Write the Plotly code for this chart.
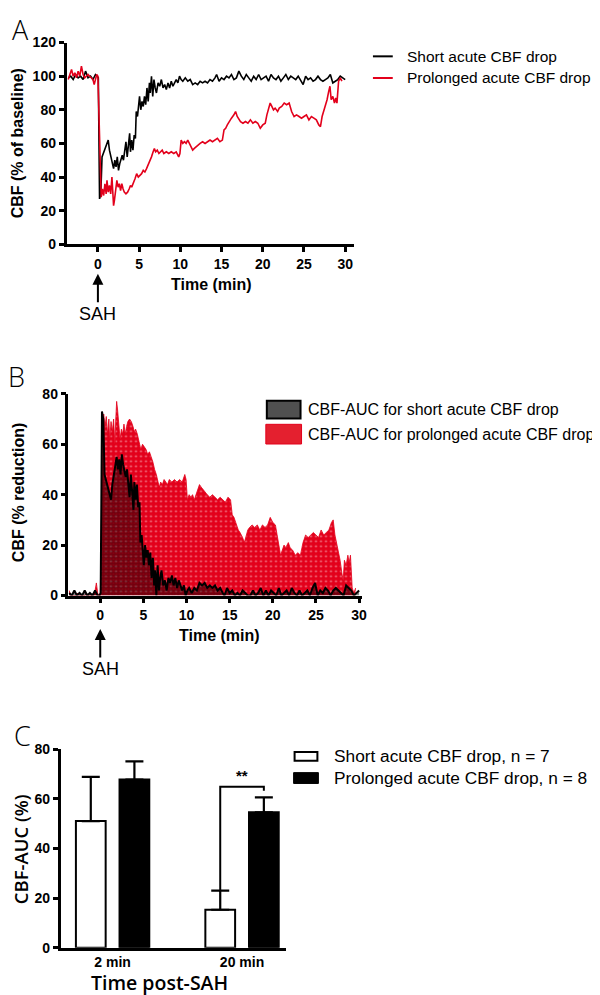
import numpy as np
import plotly.graph_objects as go

# ---------------- data ----------------
# Panel A: CBF (% of baseline) over time (min)
t_short = [-3.6, -3.3, -3.0, -2.7, -2.4, -2.1, -1.8, -1.5, -1.2, -0.9, -0.6, -0.3, -0.1, 0.05,
           0.2, 0.35, 0.5, 0.7, 0.9, 1.1, 1.25, 1.4, 1.6, 1.75, 1.9, 2.05, 2.2, 2.35, 2.5, 2.65,
           2.8, 2.95, 3.1, 3.25, 3.4, 3.55, 3.7, 3.85, 3.95, 4.1, 4.25, 4.4, 4.55, 4.65, 4.8,
           4.95, 5.05, 5.2, 5.35, 5.5, 5.65, 5.8, 5.95, 6.1, 6.25, 6.35, 6.5, 6.65, 6.8, 6.95,
           7.1, 7.3, 7.5, 7.7, 7.9, 8.1, 8.3, 8.5, 8.7, 8.9, 9.1, 9.3, 9.5, 9.7, 9.9, 10.1,
           10.3, 10.6, 10.9, 11.2, 11.5, 11.8, 12.1, 12.4, 12.7, 13.0, 13.3, 13.6, 13.9, 14.2,
           14.4, 14.7, 15.0, 15.3, 15.6, 15.9, 16.2, 16.5, 16.8, 17.1, 17.4, 17.7, 18.0, 18.3,
           18.6, 18.9, 19.2, 19.5, 19.8, 20.1, 20.4, 20.7, 21.0, 21.3, 21.6, 21.9, 22.2, 22.5,
           22.8, 23.1, 23.4, 23.7, 24.0, 24.3, 24.6, 24.9, 25.2, 25.5, 25.8, 26.1, 26.4, 26.7,
           27.0, 27.3, 27.6, 27.9, 28.2, 28.5, 28.8, 29.1, 29.4, 29.7, 30.0]
cbf_short = [99, 100, 98, 101, 99, 100, 98, 103, 99, 100, 98, 101, 100, 99,
             27, 30, 52, 55, 58, 60, 62, 56, 52, 48, 45, 50, 46, 52, 44, 48,
             50, 53, 50, 55, 61, 52, 58, 66, 55, 62, 56, 65, 63, 79, 76,
             84, 88, 80, 85, 82, 88, 83, 93, 85, 96, 90, 100, 88, 98, 93,
             90, 96, 94, 98, 93, 95, 92, 96, 93, 97, 94, 96, 98, 96, 100, 98,
             97, 99, 97, 98, 95, 96, 95, 97, 96, 97, 96, 98, 97, 99,
             101, 97, 99, 98, 100, 99, 101, 98, 99, 103, 100, 98, 101, 99,
             97, 100, 98, 101, 98, 99, 100, 97, 101, 99, 98, 100, 97, 99,
             101, 98, 100, 99, 98, 100, 97, 95, 100, 98, 99, 97, 98, 100,
             98, 97, 98, 99, 101, 96, 97, 98, 100, 99, 98]

t_prolonged = [-3.6, -3.4, -3.2, -3.0, -2.8, -2.6, -2.4, -2.2, -2.0, -1.8, -1.6, -1.4, -1.2, -1.0,
               -0.8, -0.6, -0.45, -0.3, -0.15, 0.0, 0.1, 0.25, 0.4, 0.55, 0.7, 0.85, 1.0, 1.1,
               1.25, 1.4, 1.55, 1.7, 1.8, 1.9, 2.0, 2.15, 2.3, 2.45, 2.6, 2.75, 2.9, 3.05, 3.2,
               3.4, 3.6, 3.8, 3.95, 4.1, 4.3, 4.5, 4.7, 4.9, 5.1, 5.3, 5.5, 5.7, 5.9, 6.1, 6.3,
               6.5, 6.7, 6.85, 7.0, 7.2, 7.4, 7.6, 7.8, 8.0, 8.3, 8.6, 8.9, 9.2, 9.5, 9.8, 9.95,
               10.1, 10.3, 10.5, 10.7, 10.9, 11.1, 11.3, 11.5, 11.7, 11.9, 12.1, 12.4, 12.7, 13.0,
               13.3, 13.6, 13.9, 14.2, 14.5, 14.8, 15.1, 15.3, 15.5, 15.7, 16.0, 16.2, 16.5, 16.7,
               16.9, 17.1, 17.3, 17.6, 17.9, 18.2, 18.5, 18.8, 19.1, 19.4, 19.7, 20.0, 20.3, 20.5,
               20.7, 20.9, 21.1, 21.3, 21.5, 21.8, 22.0, 22.3, 22.6, 22.9, 23.2, 23.5, 23.8, 24.1,
               24.4, 24.7, 25.0, 25.3, 25.6, 25.9, 26.2, 26.5, 26.8, 27.0, 27.2, 27.4, 27.6, 27.8,
               28.0, 28.15, 28.3, 28.5, 28.7, 28.85, 29.0, 29.2, 29.4, 29.6]
cbf_prolonged = [98, 101, 104, 100, 102, 99, 103, 100, 106, 101, 99, 100, 101, 100,
                 99, 98, 95, 99, 101, 100, 80, 42, 28, 33, 29, 36, 30, 38,
                 31, 35, 30, 40, 30, 23, 26, 33, 38, 34, 36, 32, 36, 33, 31,
                 30, 31, 33, 35, 34, 36, 39, 42, 40, 41, 42, 44, 43, 45, 47, 50,
                 52, 55, 57, 55, 56, 54, 55, 56, 54, 55, 54, 55, 54, 55, 52, 54,
                 62, 60, 61, 60, 62, 60, 58, 56, 57, 58, 59, 60, 61, 60,
                 61, 62, 61, 62, 63, 61, 62, 68, 69, 71, 74, 75, 77, 79,
                 76, 74, 73, 72, 73, 72, 74, 72, 73, 72, 69, 71, 72, 77,
                 80, 84, 82, 80, 81, 79, 81, 82, 84, 83, 84, 79, 76, 77,
                 76, 75, 76, 77, 74, 76, 75, 74, 71, 70, 76, 79, 83, 86,
                 91, 94, 86, 88, 84, 87, 84, 97, 99, 97]

# Panel C: CBF-AUC (%)
timepoints = ["2 min", "20 min"]
auc_short = [51, 15.3]
auc_short_sem = [17.8, 7.7]
auc_prolonged = [67.7, 54.5]
auc_prolonged_sem = [7.3, 6.0]

# ---------------- style ----------------
RED = "#e3001b"
W, H = 600, 995
ARIAL = "Liberation Sans, Arial, sans-serif"
LIGHT = "Open Sans, sans-serif"


def px(x):
    return x / W


def py(y):
    return 1 - y / H


axis_common = dict(showline=True, linecolor="black", linewidth=2.5, ticks="outside",
                   ticklen=5, tickwidth=2.5, tickcolor="black", showgrid=False,
                   zeroline=False, mirror=False,
                   tickfont=dict(family=ARIAL, size=14, color="black", weight="bold"))

fig = go.Figure()

# Panel A
fig.add_trace(go.Scatter(x=t_short, y=cbf_short, mode="lines", xaxis="x", yaxis="y",
                         line=dict(color="black", width=1.6), name="Short acute CBF drop",
                         showlegend=False))
fig.add_trace(go.Scatter(x=t_prolonged, y=cbf_prolonged, mode="lines", xaxis="x", yaxis="y",
                         line=dict(color=RED, width=1.6), name="Prolonged acute CBF drop",
                         showlegend=False))

# Panel B (reduction = 100 - CBF, floored at 0)
red_short = np.clip(100 - np.array(cbf_short, dtype=float), 0, None)
red_prol = np.clip(100 - np.array(cbf_prolonged, dtype=float), 0, None)
fig.add_trace(go.Scatter(x=t_prolonged, y=red_prol, mode="lines", xaxis="x2", yaxis="y2",
                         fill="tozeroy", fillcolor=RED, line=dict(color=RED, width=0.8),
                         fillpattern=dict(shape=".", fgcolor="white", bgcolor=RED,
                                          size=5, solidity=0.12, fillmode="overlay"),
                         showlegend=False, name="CBF-AUC for prolonged acute CBF drop"))
fig.add_trace(go.Scatter(x=t_short, y=red_short, mode="lines", xaxis="x2", yaxis="y2",
                         fill="tozeroy", fillcolor="rgba(0,0,0,0)",
                         line=dict(color="black", width=2),
                         fillpattern=dict(shape=".", fgcolor="black", bgcolor="rgba(0,0,0,0)",
                                          size=3, solidity=0.85),
                         showlegend=False, name="CBF-AUC for short acute CBF drop"))

# Panel C
fig.add_trace(go.Bar(x=timepoints, y=auc_short, xaxis="x3", yaxis="y3",
                     marker=dict(color="white", line=dict(color="black", width=2)),
                     error_y=dict(type="data", array=auc_short_sem, symmetric=False,
                                  arrayminus=[0, 0], color="black", thickness=2.2, width=9),
                     showlegend=False, name="Short acute CBF drop, n = 7"))
fig.add_trace(go.Bar(x=timepoints, y=auc_prolonged, xaxis="x3", yaxis="y3",
                     marker=dict(color="black", line=dict(color="black", width=2)),
                     error_y=dict(type="data", array=auc_prolonged_sem, symmetric=False,
                                  arrayminus=[0, 0], color="black", thickness=2.2, width=9),
                     showlegend=False, name="Prolonged acute CBF drop, n = 8"))

BARGAP = 0.326
BARGROUPGAP = 0.318

fig.update_layout(
    width=W, height=H, margin=dict(l=0, r=0, t=0, b=0),
    paper_bgcolor="white", plot_bgcolor="white",
    barmode="group", bargap=BARGAP, bargroupgap=BARGROUPGAP,
    xaxis=dict(domain=[px(59), px(349)], range=[-3.81, 31.08], anchor="y",
               tickvals=[0, 5, 10, 15, 20, 25, 30], **axis_common),
    yaxis=dict(domain=[py(232), py(27)], range=[0, 120], anchor="x",
               tickvals=[0, 20, 40, 60, 80, 100, 120], **axis_common),
    xaxis2=dict(domain=[px(61), px(357)], range=[-3.68, 30.34], anchor="y2",
                tickvals=[0, 5, 10, 15, 20, 25, 30], **axis_common),
    yaxis2=dict(domain=[py(589), py(384)], range=[0, 80], anchor="x2",
                tickvals=[0, 20, 40, 60, 80], **axis_common),
    xaxis3=dict(domain=[px(53), px(280)], range=[-0.402, 1.337], anchor="y3",
                **{**axis_common, "ticks": ""}),
    yaxis3=dict(domain=[py(947), py(745)], range=[0, 80], anchor="x3",
                tickvals=[0, 20, 40, 60, 80], **axis_common),
)

ann = []
shapes = []


def label(text, x, y, font, angle=0, xanchor="center"):
    ann.append(dict(text=text, x=px(x), y=py(y), xref="paper", yref="paper",
                    showarrow=False, xanchor=xanchor, yanchor="middle",
                    textangle=angle, font=font))


# panel letters
for letter, x, y in [("A", 13, 14), ("B", 9, 366), ("C", 15, 731)]:
    label(letter, x, y, dict(family=LIGHT, size=27, color="black", weight=300))

# axis titles
bold16 = dict(family=ARIAL, size=16, color="black", weight="bold")
label("CBF (% of baseline)", 10, 129.5, bold16, angle=-90)
label("Time (min)", 205, 273, bold16)
label("CBF (% reduction)", 10, 484, bold16, angle=-90)
label("Time (min)", 213, 630, bold16)
label("CBF-AUC (%)", 12, 847, dict(family=LIGHT, size=18.5, color="black", weight=600), angle=-90)
label("Time post-SAH", 153, 982.5, dict(family=LIGHT, size=19.5, color="black", weight=600))

# SAH arrows
for xa, tip in [("x", 262), ("x2", 623)]:
    ann.append(dict(text="SAH", x=0, xref=xa, y=py(tip), yref="paper", showarrow=True,
                    ax=0, ay=40, axref="pixel", ayref="pixel", arrowhead=2, arrowsize=1.1,
                    arrowwidth=2, arrowcolor="black", standoff=0,
                    font=dict(family=ARIAL, size=18, color="black")))

# Legend A
for yy, col, text in [(41, "black", "Short acute CBF drop"), (63, RED, "Prolonged acute CBF drop")]:
    shapes.append(dict(type="line", xref="paper", yref="paper", x0=px(368), x1=px(388),
                       y0=py(yy), y1=py(yy), line=dict(color=col, width=2)))
    label(text, 400, yy, dict(family=ARIAL, size=15.5, color="black"), xanchor="left")

# Legend B
shapes.append(dict(type="rect", xref="paper", yref="paper", x0=px(261), x1=px(295),
                   y0=py(409), y1=py(391), fillcolor="#505050",
                   line=dict(color="black", width=2)))
shapes.append(dict(type="rect", xref="paper", yref="paper", x0=px(260), x1=px(296),
                   y0=py(435), y1=py(415), fillcolor="#e4202f", line=dict(color=RED, width=1)))
for yy, text in [(400, "CBF-AUC for short acute CBF drop"),
                 (425, "CBF-AUC for prolonged acute CBF drop")]:
    label(text, 301, yy, dict(family=ARIAL, size=16, color="black"), xanchor="left")

# Legend C
shapes.append(dict(type="rect", xref="paper", yref="paper", x0=px(289), x1=px(312),
                   y0=py(757), y1=py(748), fillcolor="white", line=dict(color="black", width=2)))
shapes.append(dict(type="rect", xref="paper", yref="paper", x0=px(288), x1=px(313),
                   y0=py(780), y1=py(769), fillcolor="black", line=dict(color="black", width=1)))
for yy, text in [(752, "Short acute CBF drop, n = 7"), (774, "Prolonged acute CBF drop, n = 8")]:
    label(text, 327, yy, dict(family=ARIAL, size=17.3, color="black"), xanchor="left")

# significance bracket in panel C (bar centres derived from group layout)
slot = (1 - BARGAP) / 2
xw = 1 - slot / 2
xb = 1 + slot / 2
top_sig = 64.8
shapes.append(dict(type="path", xref="x3", yref="y3",
                   path=f"M {xw},{auc_short[1] + auc_short_sem[1]} L {xw},{top_sig} "
                        f"L {xb},{top_sig} L {xb},{top_sig - 1.6}",
                   line=dict(color="black", width=2)))
ann.append(dict(text="**", x=1, y=top_sig + 0.5, xref="x3", yref="y3", yanchor="bottom",
                xanchor="center", showarrow=False,
                font=dict(family=ARIAL, size=15, color="black", weight="bold")))

fig.update_layout(annotations=ann, shapes=shapes)

fig.write_html("out.html")
